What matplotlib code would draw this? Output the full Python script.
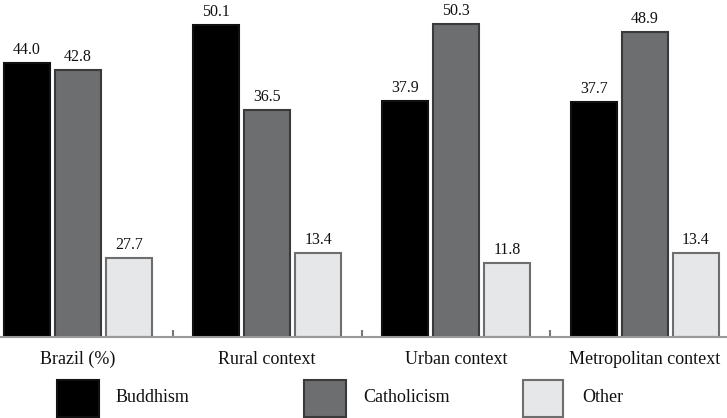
import matplotlib.pyplot as plt
import matplotlib.patches as mpatches
import numpy as np

# Data
groups = ['Brazil (%)', 'Rural context', 'Urban context', 'Metropolitan context']
series = ['Buddhism', 'Catholicism', 'Other']
buddhism = [44.0, 50.1, 37.9, 37.7]
catholicism = [42.8, 36.5, 50.3, 48.9]
# the first "Other" bar is drawn much shorter than its printed label
other = [12.7, 13.4, 11.8, 13.4]
other_labels = ['27.7', '13.4', '11.8', '13.4']

fills = ['#000000', '#6d6e70', '#e6e7e8']
edges = ['#111111', '#3a3a3a', '#6e6e6e']

plt.rcParams['font.family'] = ['Liberation Serif', 'DejaVu Serif']

fig = plt.figure(figsize=(7.27, 4.18), dpi=100)
ax = fig.add_axes([0, 0.194, 1, 0.806])

x = np.arange(len(groups))
width = 0.245
step = 0.27

all_vals = [buddhism, catholicism, other]
all_labels = [[f'{v:.1f}' for v in buddhism], [f'{v:.1f}' for v in catholicism], other_labels]
for i, vals in enumerate(all_vals):
    pos = x + (i - 1) * step
    bars = ax.bar(pos, vals, width, color=fills[i], edgecolor=edges[i], linewidth=1.5)
    for b, v, lab in zip(bars, vals, all_labels[i]):
        ax.text(b.get_x() + b.get_width() / 2, v + 0.8, lab,
                ha='center', va='bottom', fontsize=11.5, color='#111111')

ax.set_xlim(-0.413, 3.434)
ax.set_ylim(0, 54.1)

# Axis styling
for s in ['top', 'right', 'left']:
    ax.spines[s].set_visible(False)
ax.spines['bottom'].set_color('#999999')
ax.spines['bottom'].set_linewidth(1.5)
ax.set_yticks([])
ax.set_xticks(x)
ax.set_xticklabels(groups, fontsize=13, color='#111111')
ax.tick_params(axis='x', which='major', length=0, pad=10)
ax.set_xticks([0.5, 1.5, 2.5], minor=True)
ax.tick_params(axis='x', which='minor', direction='in', length=5, width=1.5, color='#777777')

# Legend drawn manually along the bottom
W, H = 727, 418
legend_boxes = [(57, 42), (304, 42), (523, 40)]
legend_text_x = [116, 363, 582]
for i, name in enumerate(series):
    lx, lw = legend_boxes[i]
    rect = mpatches.Rectangle((lx / W, (H - 417) / H), lw / W, 37 / H,
                              transform=fig.transFigure, facecolor=fills[i],
                              edgecolor=edges[i], linewidth=1.5)
    fig.add_artist(rect)
    fig.text(legend_text_x[i] / W, (H - 398) / H, name, fontsize=13,
             va='center', ha='left', color='#111111')

fig.savefig('out.png', dpi=100)
